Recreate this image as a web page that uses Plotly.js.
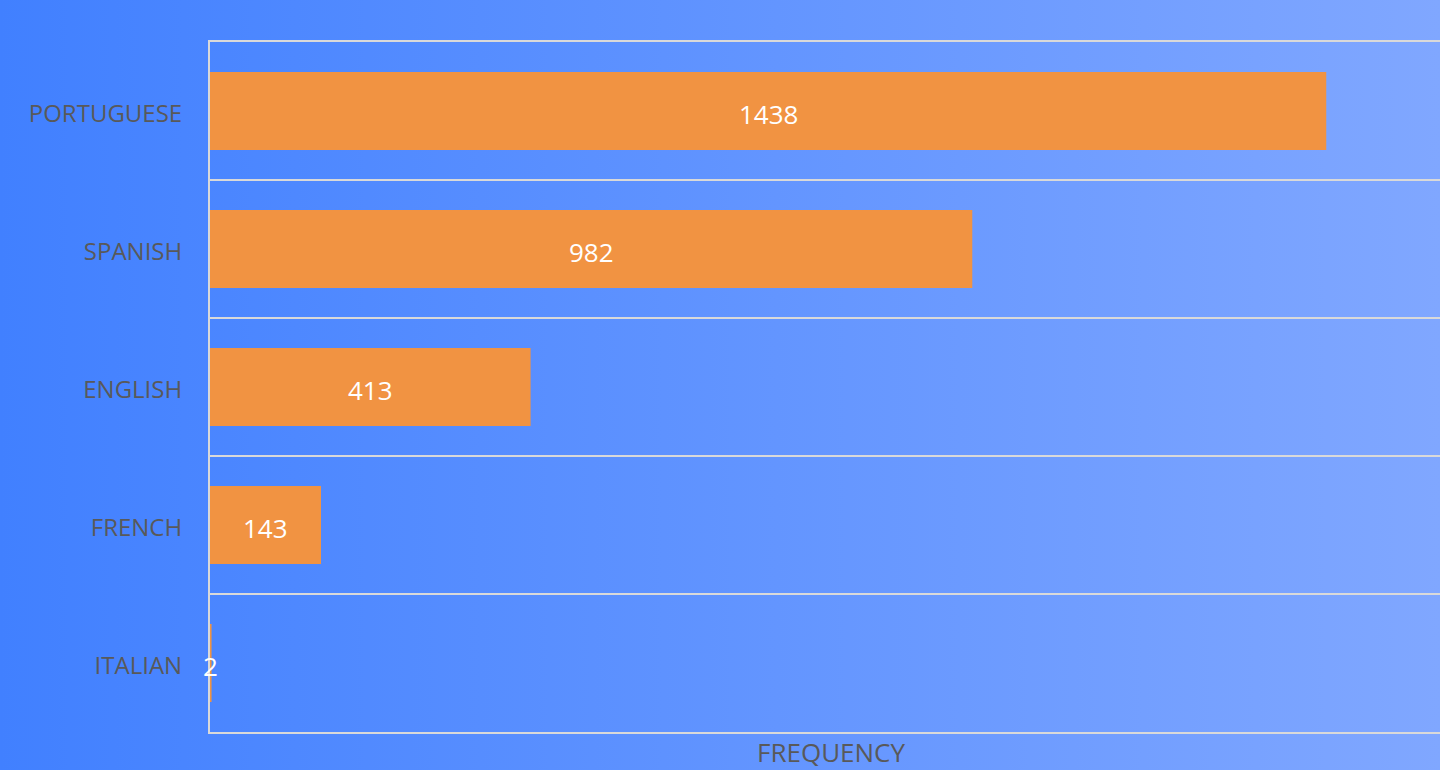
<!DOCTYPE html>
<html>
<head>
<meta charset="utf-8">
<script src="https://cdn.plot.ly/plotly-3.0.1.min.js"></script>
<style>
html, body { margin: 0; padding: 0; width: 1440px; height: 770px; overflow: hidden; }
body { background: linear-gradient(to right, #4180ff 0%, #80a7ff 100%); }
#chart { width: 1462px; height: 770px; }
</style>
</head>
<body>
<div id="chart"></div>
<script>
const languages = ["PORTUGUESE", "SPANISH", "ENGLISH", "FRENCH", "ITALIAN"];
const frequency = [1438, 982, 413, 143, 2];
const xAxisTitle = "FREQUENCY";

const trace = {
  type: "bar",
  orientation: "h",
  y: languages,
  x: frequency,
  marker: { color: "#f19342" },
  hoverinfo: "skip"
};

const labels = languages.map((lang, i) => ({
  x: frequency[i] / 2,
  y: lang,
  xref: "x",
  yref: "y",
  text: String(frequency[i]),
  showarrow: false,
  xanchor: "center",
  yanchor: "middle",
  yshift: -3,
  font: { family: "Open Sans", size: 26, color: "#ffffff" }
}));

labels.push({
  x: 0.5,
  y: 0,
  xref: "paper",
  yref: "paper",
  text: xAxisTitle,
  showarrow: false,
  xanchor: "center",
  yanchor: "middle",
  yshift: -20,
  font: { family: "Open Sans", size: 26, color: "#595959" }
});

const layout = {
  width: 1462,
  height: 770,
  margin: { l: 210, r: 10, t: 42, b: 38 },
  paper_bgcolor: "rgba(0,0,0,0)",
  plot_bgcolor: "rgba(0,0,0,0)",
  bargap: 0.435,
  showlegend: false,
  font: { family: "Open Sans", color: "#595959" },
  annotations: labels,
  xaxis: {
    range: [0, 1600],
    showticklabels: false,
    showgrid: false,
    zeroline: false,
    showline: true,
    mirror: true,
    linecolor: "#d9d9d9",
    linewidth: 2,
    automargin: false
  },
  yaxis: {
    type: "category",
    categoryorder: "array",
    categoryarray: languages,
    autorange: "reversed",
    tickson: "boundaries",
    showgrid: true,
    gridcolor: "#d9d9d9",
    gridwidth: 2,
    showline: true,
    linecolor: "#d9d9d9",
    linewidth: 2,
    layer: "above traces",
    ticks: "",
    ticklabelstandoff: 21,
    ticklabelshift: -3,
    tickfont: { family: "Open Sans", size: 24, color: "#595959" },
    automargin: false
  }
};

Plotly.newPlot("chart", [trace], layout, { displayModeBar: false, staticPlot: true });
</script>
</body>
</html>
